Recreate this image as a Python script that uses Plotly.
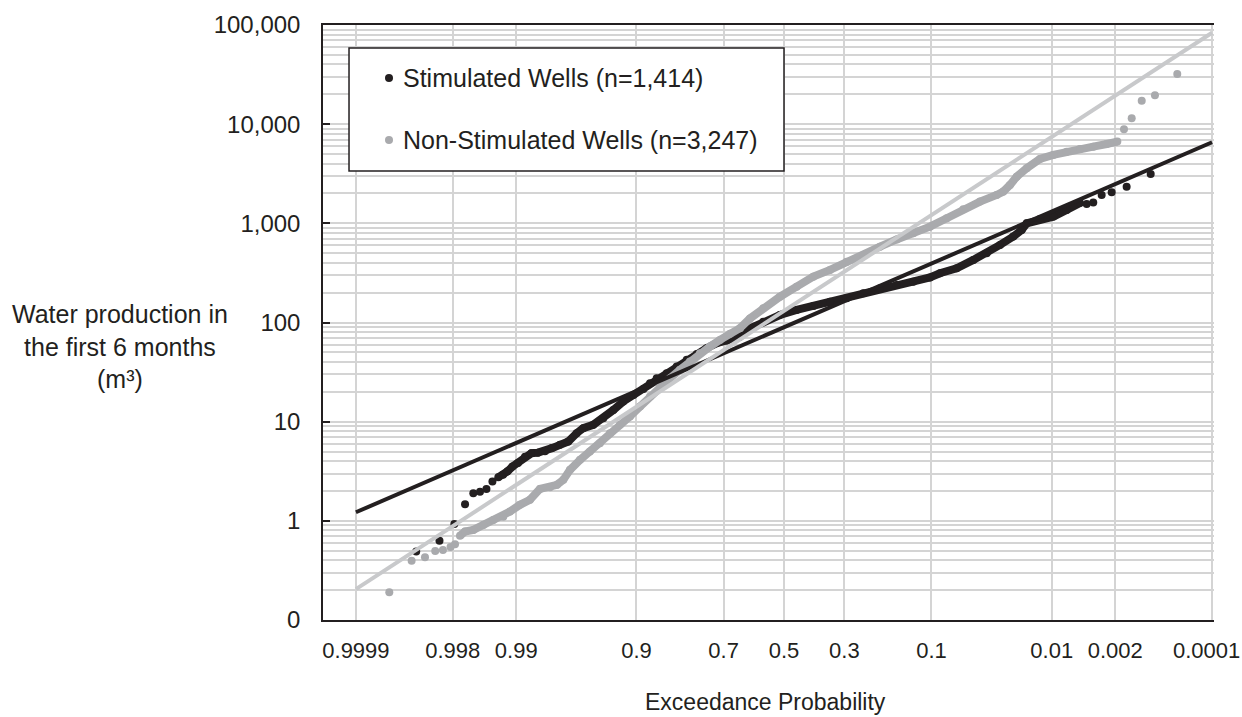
from statistics import NormalDist

import plotly.graph_objects as go

# normal scores (x position on the probability axis) and water volumes
stim_z = [-3.195, -2.993, -2.864, -2.771, -2.699, -2.641, -2.585, -2.533, -2.482, -2.441,
          -2.402, -2.359, -2.311, -2.250, -2.194, -2.137, -2.076, -2.016, -1.946, -1.874,
          -1.801, -1.744, -1.657, -1.570, -1.483, -1.396, -1.309, -1.222, -1.164, -1.106,
          -1.019, -0.932, -0.845, -0.758, -0.672, -0.585, -0.498, -0.382, -0.324, -0.180,
          -0.035, 0.110, 0.255, 0.400, 0.545, 0.689, 0.834, 0.979, 1.123, 1.268,
          1.355, 1.500, 1.645, 1.761, 1.877, 1.992, 2.065, 2.109, 2.224, 2.340,
          2.456, 2.572, 2.630, 2.687, 2.760, 2.847, 2.977, 3.186]
stim_val = [0.49, 0.63, 0.93, 1.47, 1.90, 1.96, 2.10, 2.49, 2.75, 2.91,
            3.16, 3.53, 3.82, 4.42, 4.81, 4.87, 5.02, 5.41, 5.84, 6.30,
            7.66, 8.60, 9.29, 10.8, 13.1, 16.0, 18.6, 21.3, 24.4, 27.4,
            30.8, 35.9, 42.0, 48.2, 55.1, 61.8, 65.7, 72.1, 84.2, 102,
            119, 134, 147, 162, 176, 197, 222, 239, 258, 285,
            314, 352, 428, 500, 606, 735, 857, 1000, 1107, 1169,
            1365, 1607, 1570, 1618, 1933, 2058, 2344, 3148]

non_z = [-3.429, -3.235, -3.119, -3.030, -2.963, -2.897, -2.858, -2.815, -2.771, -2.699,
         -2.612, -2.526, -2.439, -2.381, -2.294, -2.207, -2.120, -2.033, -1.972, -1.917,
         -1.859, -1.772, -1.686, -1.599, -1.512, -1.425, -1.338, -1.251, -1.164, -1.077,
         -0.990, -0.904, -0.817, -0.730, -0.643, -0.556, -0.469, -0.382, -0.295, -0.180,
         -0.035, 0.110, 0.255, 0.400, 0.545, 0.689, 0.834, 0.979, 1.123, 1.268,
         1.414, 1.558, 1.703, 1.848, 1.905, 1.963, 2.022, 2.109, 2.224, 2.340,
         2.456, 2.572, 2.687, 2.804, 2.896, 2.954, 3.021, 3.108, 3.223, 3.417]
non_val = [0.19, 0.395, 0.43, 0.495, 0.507, 0.544, 0.582, 0.706, 0.78, 0.81,
           0.91, 1.02, 1.10, 1.24, 1.45, 1.63, 2.10, 2.18, 2.31, 2.59,
           3.27, 4.12, 5.00, 6.07, 7.66, 9.29, 11.3, 14.2, 17.9, 22.6,
           27.4, 33.3, 40.4, 49.1, 57.2, 66.8, 76.8, 87.7, 110, 139,
           182, 230, 290, 339, 411, 480, 582, 688, 795, 926,
           1125, 1387, 1656, 1933, 2089, 2438, 2958, 3591, 4457, 4898,
           5284, 5623, 5930, 6310, 6668, 8890, 11480, 17260, 19540, 32060]

# fitted lognormal lines (end points)
fit_prob = [0.9999, 0.0001]
stim_fit = [1.22, 6570]
non_fit = [0.205, 83600]

tick_prob = [0.9999, 0.998, 0.99, 0.9, 0.7, 0.5, 0.3, 0.1, 0.01, 0.002, 0.0001]
tick_text = ["0.9999", "0.998", "0.99", "0.9", "0.7", "0.5", "0.3", "0.1", "0.01", "0.002", "0.0001"]
y_vals = [0.1, 1, 10, 100, 1000, 10000, 100000]
y_text = ["0", "1", "10", "100", "1,000", "10,000", "100,000"]

BLACK = "#231f20"
GREY_PTS = "#a9aaad"
GREY_FIT = "#c8c9cb"
FONT = "Liberation Sans, Arial, sans-serif"


def probit(p):
    # exceedance probability -> standard normal score
    return NormalDist().inv_cdf(1 - p)


fig = go.Figure()

# dense parts of the point clouds (overlapping markers)
fig.add_trace(go.Scatter(x=stim_z[8:62], y=stim_val[8:62], mode="lines",
                         line=dict(color=BLACK, width=8), showlegend=False, hoverinfo="skip"))
fig.add_trace(go.Scatter(x=stim_z, y=stim_val, mode="markers", name="Stimulated Wells (n=1,414)",
                         marker=dict(color=BLACK, size=8), showlegend=False))
fig.add_trace(go.Scatter(x=non_z[7:65], y=non_val[7:65], mode="lines",
                         line=dict(color=GREY_PTS, width=8), showlegend=False, hoverinfo="skip"))
fig.add_trace(go.Scatter(x=non_z, y=non_val, mode="markers", name="Non-Stimulated Wells (n=3,247)",
                         marker=dict(color=GREY_PTS, size=8), showlegend=False))

# fit lines
fit_z = [probit(p) for p in fit_prob]
fig.add_trace(go.Scatter(x=fit_z, y=stim_fit, mode="lines", line=dict(color=BLACK, width=4),
                         showlegend=False))
fig.add_trace(go.Scatter(x=fit_z, y=non_fit, mode="lines", line=dict(color=GREY_FIT, width=4),
                         showlegend=False))

# the last label sits at the page edge, so it is placed as an annotation nudged slightly left
x_labels = tick_text[:-1] + [""]

fig.update_xaxes(range=[-4.005, 3.736], tickvals=[probit(p) for p in tick_prob], ticktext=x_labels,
                 showgrid=True, gridcolor="#d4d4d4", gridwidth=1.5, zeroline=False,
                 showline=True, linecolor=BLACK, linewidth=1.5, mirror=True, automargin=False,
                 ticks="", ticklabelstandoff=10,
                 tickfont=dict(size=22, color=BLACK, family=FONT))
fig.update_yaxes(type="log", range=[-1, 5], tickvals=y_vals, ticktext=y_text,
                 showgrid=True, gridcolor="#d4d4d4", gridwidth=1.5, zeroline=False,
                 minor=dict(dtick="D1", showgrid=True, gridcolor="#d4d4d4", gridwidth=1.5),
                 showline=True, linecolor=BLACK, linewidth=1.5, automargin=False,
                 ticks="inside", ticklen=7, tickwidth=1.5, tickcolor=BLACK,
                 ticklabelstandoff=16, tickfont=dict(size=24, color=BLACK, family=FONT))

fig.add_annotation(x=probit(tick_prob[-1]), y=-0.052, xref="x", yref="paper", text=tick_text[-1],
                   showarrow=False, xanchor="center", yanchor="middle", xshift=-6,
                   font=dict(size=22, color=BLACK, family=FONT))

# legend box drawn by hand to match the original spacing
fig.add_shape(type="rect", xref="paper", yref="paper", x0=0.0292, x1=0.5174, y0=0.7546, y1=0.9613,
              line=dict(color=BLACK, width=1.5), fillcolor="white", layer="above")
legend_rows = [("Stimulated Wells (n=1,414)", BLACK, 0.9109),
               ("Non-Stimulated Wells (n=3,247)", GREY_PTS, 0.8067)]
for label, col, yy in legend_rows:
    fig.add_shape(type="circle", xref="paper", yref="paper",
                  x0=0.0741 - 0.0045, x1=0.0741 + 0.0045, y0=yy - 0.0067, y1=yy + 0.0067,
                  fillcolor=col, line=dict(color=col, width=0), layer="above")
    fig.add_annotation(x=0.0875, y=yy, xref="paper", yref="paper", text=label, showarrow=False,
                       xanchor="left", yanchor="middle", font=dict(size=25, color=BLACK, family=FONT))

fig.add_annotation(x=-0.228, y=0.459, xref="paper", yref="paper",
                   text="Water production in<br>the first 6 months<br>(m³)", showarrow=False,
                   xanchor="center", yanchor="middle", align="center",
                   font=dict(size=25, color=BLACK, family=FONT))
fig.add_annotation(x=0.497, y=-0.1378, xref="paper", yref="paper", text="Exceedance Probability",
                   showarrow=False, xanchor="center", yanchor="middle",
                   font=dict(size=23, color=BLACK, family=FONT))

fig.update_layout(width=1242, height=717, margin=dict(l=323, r=28, t=25, b=97, autoexpand=False),
                  plot_bgcolor="white", paper_bgcolor="white", font=dict(family=FONT, color=BLACK))

# drop the browser's default page margin so the figure sits at the window corner
fig.write_html("out.html", config={"displayModeBar": False},
               post_script="document.body.style.margin='0';")
